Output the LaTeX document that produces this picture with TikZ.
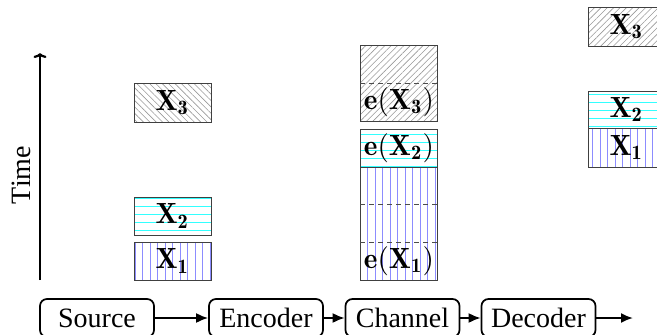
\documentclass[tikz,border=0pt]{standalone}
\usepackage{fontspec}
\newfontfamily\timesfont{Liberation Serif}
\usetikzlibrary{arrows.meta,patterns.meta,calc}
\newcommand{\slotmath}[1]{\scalebox{2.92}{$\mathbf{#1}$}}
\tikzset{
  lbl/.style={font=\timesfont\fontsize{28}{32}\selectfont},
  stage/.style={lbl,draw,rounded corners=7pt,line width=1.7pt,minimum width=114pt,minimum height=38pt,inner sep=0pt},
  flow/.style={line width=1.9pt,-{Latex[length=12pt,width=10pt]}},
  slot/.style={draw=black!75,line width=0.9pt,minimum width=77pt,inner sep=0pt},
  pone/.style={pattern={Lines[angle=90,distance=7.5pt,line width=1pt]},pattern color=blue!45},
  ptwo/.style={pattern={Lines[angle=0,distance=8pt,line width=1pt]},pattern color=cyan!80},
  pthreeL/.style={pattern={Lines[angle=-45,distance=4.5pt,line width=0.6pt]},pattern color=black!40},
  pthreeR/.style={pattern={Lines[angle=45,distance=4.5pt,line width=0.6pt]},pattern color=black!40},
  dsh/.style={draw=black!70,line width=0.9pt,dash pattern=on 5pt off 4pt},
  txt/.style={inner sep=0pt}
}
\begin{document}
\begin{tikzpicture}[x=1pt,y=-1pt]
\useasboundingbox (0,0) rectangle (657,335);
% time axis
\coordinate (tbot) at (40,280);
\coordinate (ttop) at (40,53);
\draw[line width=2.2pt,-{To[length=5pt,width=13pt]}] (tbot) -- (ttop);
\node[lbl,rotate=90] (time) at (21,175) {Time};
% source column
\node[slot,pthreeL,minimum height=39pt] (sx3) at (172.5,102.5) {\slotmath{X_3}};
\node[slot,ptwo,minimum height=38pt] (sx2) at (172.5,216) {\slotmath{X_2}};
\node[slot,pone,minimum height=38pt] (sx1) at (172.5,261) {\slotmath{X_1}};
% channel column
\node[slot,pthreeR,minimum height=76pt] (ctop) at (399,83) {};
\draw[dsh] (ctop.west) -- (ctop.east);
\node[txt] (ce3) at (399,102) {\slotmath{e(X_3)}};
\node[slot,pone,minimum height=113pt] (cx1) at (399,223.5) {};
\node[slot,ptwo,minimum height=38pt] (cx2) at (399,148) {\slotmath{e(X_2)}};
\draw[dsh] ($(cx1.north west)!1/3!(cx1.south west)$) -- ($(cx1.north east)!1/3!(cx1.south east)$);
\draw[dsh] ($(cx1.north west)!2/3!(cx1.south west)$) -- ($(cx1.north east)!2/3!(cx1.south east)$);
\node[txt] (ce1) at (399,261) {\slotmath{e(X_1)}};
% decoder column
\node[slot,pthreeR,minimum height=39pt] (dx3) at (626.5,26.5) {\slotmath{X_3}};
\node[slot,ptwo,minimum height=37pt] (dx2) at (626.5,109.5) {\slotmath{X_2}};
\node[slot,pone,minimum height=39pt] (dx1) at (626.5,147.5) {\slotmath{X_1}};
% pipeline
\node[stage] (src) at (97,318) {Source};
\node[stage] (enc) at (266,318) {Encoder};
\node[stage] (chn) at (402.5,318) {Channel};
\node[stage] (dec) at (538.5,318) {Decoder};
\coordinate (out) at (633,318);
\draw[flow] (src) -- (enc);
\draw[flow] (enc) -- (chn);
\draw[flow] (chn) -- (dec);
\draw[flow] (dec) -- (out);
\end{tikzpicture}
\end{document}
